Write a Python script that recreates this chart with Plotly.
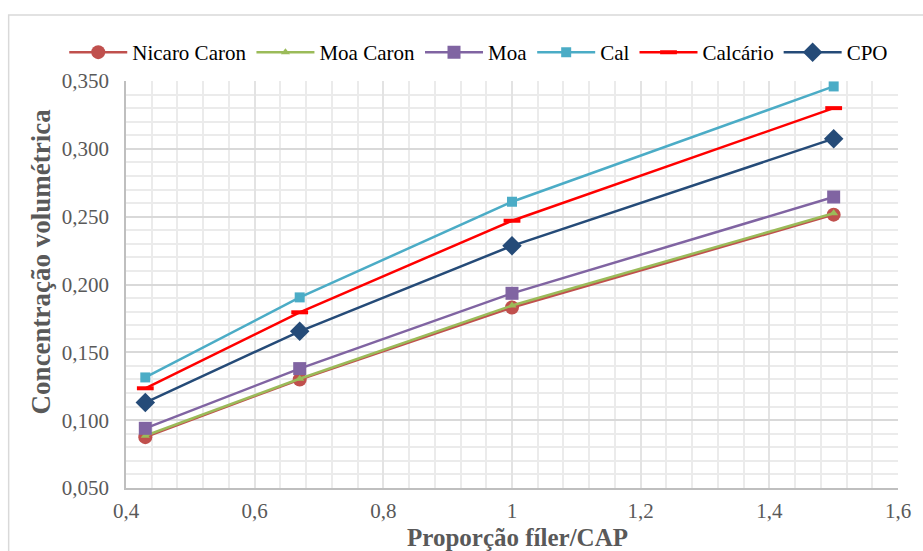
import plotly.graph_objects as go

x_vals = [0.43, 0.67, 1.0, 1.5]
nicaro_caron = [0.0875, 0.130, 0.183, 0.2515]
moa_caron = [0.0885, 0.1305, 0.1845, 0.2525]
moa = [0.094, 0.138, 0.1935, 0.2645]
cal = [0.1315, 0.1905, 0.261, 0.346]
calcario = [0.1235, 0.1795, 0.247, 0.330]
cpo = [0.1130, 0.1655, 0.2285, 0.3075]

series = [
    ("Nicaro Caron", nicaro_caron, "#C0504D", "circle", 14),
    ("Moa Caron", moa_caron, "#9BBB59", "triangle-up", 8),
    ("Moa", moa, "#8064A2", "square", 13),
    ("Cal", cal, "#4BACC6", "square", 10),
    ("Calcário", calcario, "#FF0000", "line-ew", 12),
    ("CPO", cpo, "#254B78", "diamond", 15),
]

fig = go.Figure()
for name, ys, color, sym, size in series:
    marker = dict(symbol=sym, size=size, color=color)
    if sym == "line-ew":
        marker["line"] = dict(color=color, width=4)
    else:
        marker["line"] = dict(color=color, width=0)
    fig.add_trace(go.Scatter(x=x_vals, y=ys, name=name, mode="lines+markers",
                             line=dict(color=color, width=2.5), marker=marker))

serif = "Liberation Serif"
fig.update_layout(
    width=923, height=551,
    margin=dict(l=126, r=23, t=81, b=63),
    paper_bgcolor="white", plot_bgcolor="white",
    separators=",.",
    font=dict(family=serif, color="#595959", size=21),
    showlegend=True,
    legend=dict(orientation="h", x=-0.08, y=1.07, xanchor="left", yanchor="middle",
                font=dict(family=serif, size=21, color="black"),
                itemwidth=58, tracegroupgap=0, bgcolor="rgba(0,0,0,0)"),
    xaxis=dict(range=[0.4, 1.6], dtick=0.2, tick0=0.4, showgrid=True, gridcolor="#E3E3E3",
               gridwidth=1.5, showline=True, linecolor="#BFBFBF", linewidth=1.5,
               ticks="", zeroline=False, ticklabelstandoff=3,
               minor=dict(dtick=0.04, showgrid=True, gridcolor="#EBEBEB", gridwidth=1.5),
               tickfont=dict(family=serif, size=21, color="#595959")),
    yaxis=dict(range=[0.05, 0.35], dtick=0.05, tick0=0.05, tickformat=".3f", showgrid=True,
               gridcolor="#D9D9D9", gridwidth=1.5, showline=True, linecolor="#BFBFBF",
               linewidth=1.5, ticks="", zeroline=False, ticklabelstandoff=11,
               minor=dict(dtick=0.01, showgrid=True, gridcolor="#EBEBEB", gridwidth=1.5),
               tickfont=dict(family=serif, size=21, color="#595959")),
    annotations=[
        dict(text="<b>Proporção fíler/CAP</b>", xref="paper", yref="paper", x=0.507, y=-0.122,
             xanchor="center", yanchor="middle", showarrow=False,
             font=dict(family=serif, size=25, color="#595959")),
        dict(text="<b>Concentração volumétrica</b>", xref="paper", yref="paper", x=-0.11, y=0.557,
             xanchor="center", yanchor="middle", textangle=-90, showarrow=False,
             font=dict(family=serif, size=27, color="#595959")),
    ],
    shapes=[dict(type="rect", xref="paper", yref="paper", x0=-0.152, x1=1.1, y0=-0.3, y1=1.162,
                 line=dict(color="#D9D9D9", width=1.5), fillcolor="rgba(0,0,0,0)", layer="below")],
)
fig.write_html("out.html", config={"displayModeBar": False})
with open("out.html", encoding="utf-8") as f:
    html = f.read()
html = html.replace("<body>", '<body style="margin:0;padding:0">', 1)
with open("out.html", "w", encoding="utf-8") as f:
    f.write(html)
